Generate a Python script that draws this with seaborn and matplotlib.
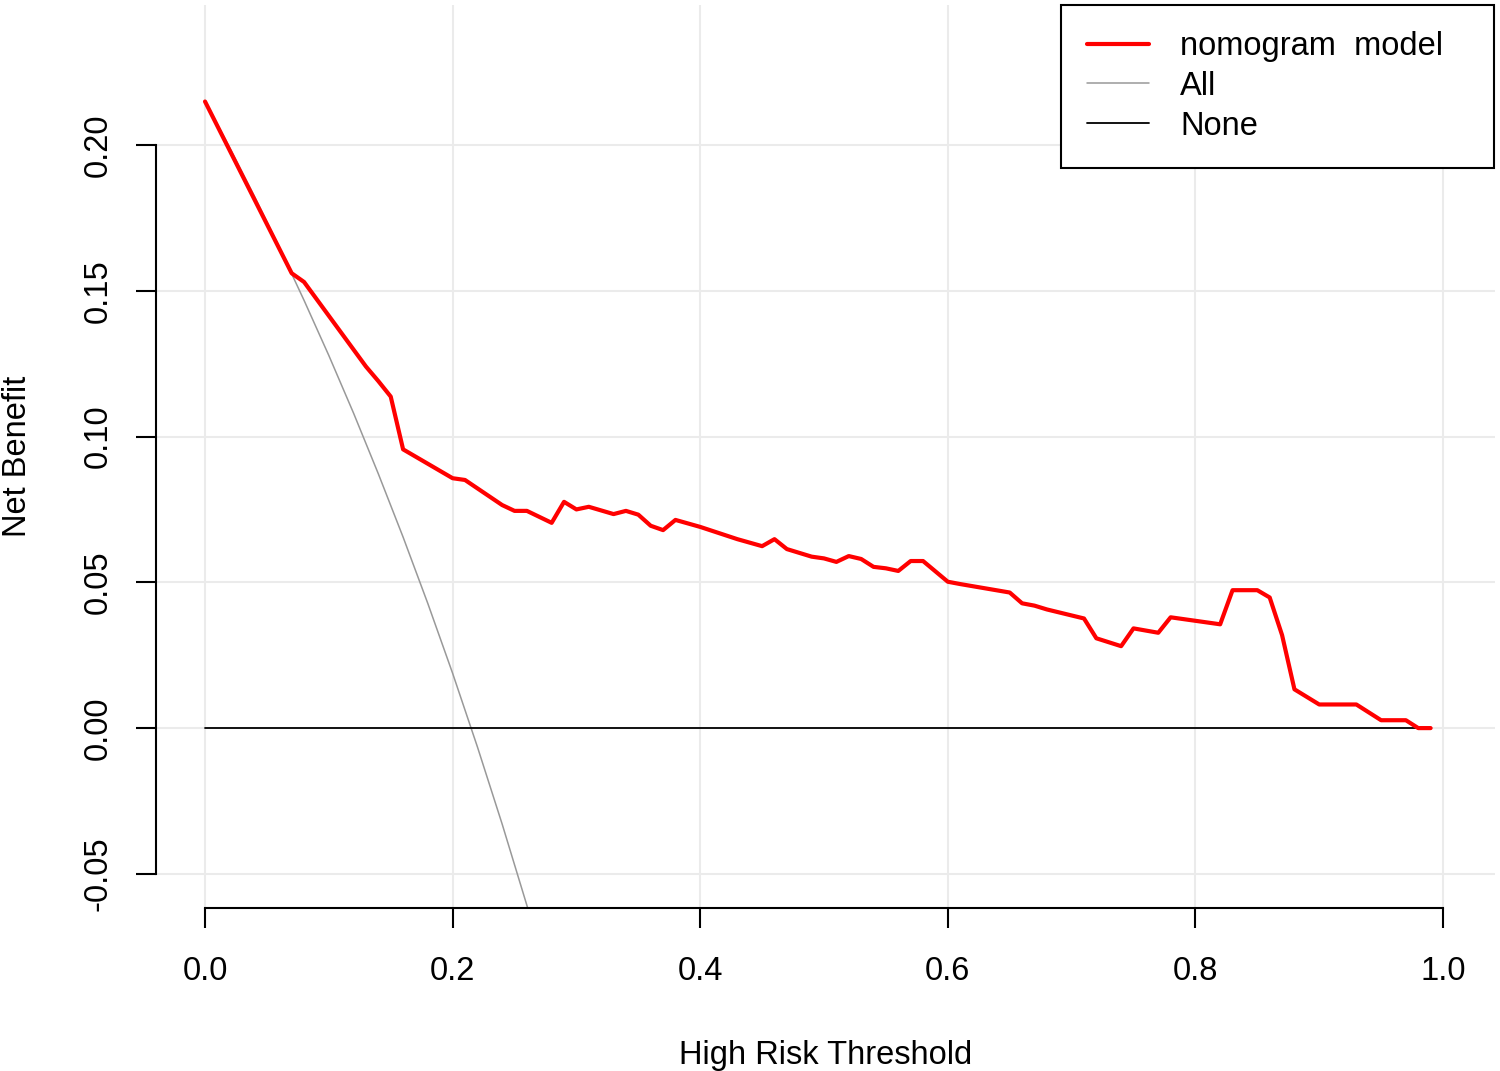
import matplotlib
matplotlib.use("Agg")
import matplotlib.pyplot as plt
import seaborn as sns
import pandas as pd

# ----------------------------
# Decision curve data
# ----------------------------
thresholds = [0.00, 0.07, 0.08, 0.13, 0.14, 0.15, 0.16, 0.20, 0.21, 0.24,
              0.25, 0.26, 0.28, 0.29, 0.30, 0.31, 0.33, 0.34, 0.35, 0.36,
              0.37, 0.38, 0.40, 0.43, 0.45, 0.46, 0.47, 0.49, 0.50, 0.51,
              0.52, 0.53, 0.54, 0.55, 0.56, 0.57, 0.58, 0.60, 0.61, 0.65,
              0.66, 0.67, 0.68, 0.71, 0.72, 0.74, 0.75, 0.77, 0.78, 0.82,
              0.83, 0.85, 0.86, 0.87, 0.88, 0.90, 0.93, 0.95, 0.97, 0.98, 0.99]
model_nb = [0.2149, 0.1560, 0.1530, 0.1240, 0.1190, 0.1137, 0.0956, 0.0857, 0.0851, 0.0765,
            0.0745, 0.0745, 0.0704, 0.0776, 0.0750, 0.0759, 0.0734, 0.0745, 0.0732, 0.0694,
            0.0679, 0.0714, 0.0690, 0.0648, 0.0624, 0.0648, 0.0614, 0.0588, 0.0582, 0.0570,
            0.0590, 0.0580, 0.0553, 0.0548, 0.0539, 0.0573, 0.0573, 0.0502, 0.0494, 0.0465,
            0.0428, 0.0420, 0.0407, 0.0376, 0.0308, 0.0281, 0.0342, 0.0327, 0.0380, 0.0356,
            0.0473, 0.0473, 0.0448, 0.0319, 0.0133, 0.0081, 0.0081, 0.0027, 0.0027, 0.0000, 0.0000]

all_thresholds = [0.00, 0.02, 0.04, 0.06, 0.08, 0.10, 0.12, 0.14,
                  0.16, 0.18, 0.20, 0.22, 0.24, 0.26, 0.27]
all_nb = [0.2150, 0.1990, 0.1823, 0.1649, 0.1467, 0.1278, 0.1080, 0.0872,
          0.0655, 0.0427, 0.0188, -0.0064, -0.0329, -0.0608, -0.0753]

none_thresholds = [0.00, 0.99]
none_nb = [0.0, 0.0]

x_ticks = [0.0, 0.2, 0.4, 0.6, 0.8, 1.0]
x_tick_labels = ["0.0", "0.2", "0.4", "0.6", "0.8", "1.0"]
y_ticks = [-0.05, 0.00, 0.05, 0.10, 0.15, 0.20]
y_tick_labels = ["-0.05", "0.00", "0.05", "0.10", "0.15", "0.20"]

model_df = pd.DataFrame({"threshold": thresholds, "net_benefit": model_nb})
all_df = pd.DataFrame({"threshold": all_thresholds, "net_benefit": all_nb})
none_df = pd.DataFrame({"threshold": none_thresholds, "net_benefit": none_nb})

sns.set_style("white")
plt.rcParams["font.family"] = ["Liberation Sans", "DejaVu Sans"]
for key in ["text.color", "axes.labelcolor", "xtick.color", "ytick.color"]:
    plt.rcParams[key] = "black"
fs = 23.5

fig = plt.figure(figsize=(15, 10.71), dpi=100)
ax = fig.add_axes([156 / 1500, 163 / 1071, 1339 / 1500, 903 / 1071])

# grid first, then curves on top
ax.set_axisbelow(True)
ax.grid(True, color="#EBEBEB", linewidth=1.5)

sns.lineplot(data=all_df, x="threshold", y="net_benefit", ax=ax,
             color="#999999", linewidth=1.1, label="All")
sns.lineplot(data=none_df, x="threshold", y="net_benefit", ax=ax,
             color="black", linewidth=1.3, label="None")
sns.lineplot(data=model_df, x="threshold", y="net_benefit", ax=ax,
             color="#FF0000", linewidth=3.0, label="nomogram  model")

ax.set_xlim(-0.0396, 1.042)
ax.set_ylim(-0.0617, 0.248)
ax.set_xticks(x_ticks)
ax.set_xticklabels(x_tick_labels, fontsize=fs)
ax.set_yticks(y_ticks)
ax.set_yticklabels(y_tick_labels, fontsize=fs, rotation=90, va="center")

# R-style axes: lines only over the tick range
for side in ["top", "right"]:
    ax.spines[side].set_visible(False)
for side in ["left", "bottom"]:
    ax.spines[side].set_color("black")
    ax.spines[side].set_linewidth(1.5)
ax.spines["left"].set_bounds(-0.05, 0.20)
ax.spines["bottom"].set_bounds(0.0, 1.0)
ax.tick_params(axis="both", which="major", bottom=True, left=True,
               direction="out", length=14.4, width=1.5, color="black")
ax.tick_params(axis="x", pad=20)
ax.tick_params(axis="y", pad=16)

ax.set_xlabel("High Risk Threshold", fontsize=fs, labelpad=38)
ax.set_ylabel("Net Benefit", fontsize=fs, labelpad=36)

handles, labels = ax.get_legend_handles_labels()
order = [2, 0, 1]
leg = ax.legend([handles[i] for i in order], [labels[i] for i in order],
                loc="upper left", bbox_to_anchor=(0.6759, 0.825, 0.3234, 0.175),
                mode="expand", borderaxespad=0, fontsize=fs,
                handlelength=1.9, handletextpad=0.95, labelspacing=0.27,
                borderpad=0.8, fancybox=False, framealpha=1, edgecolor="black")
leg.get_frame().set_linewidth(1.5)

plt.savefig("out.png", dpi=100)
